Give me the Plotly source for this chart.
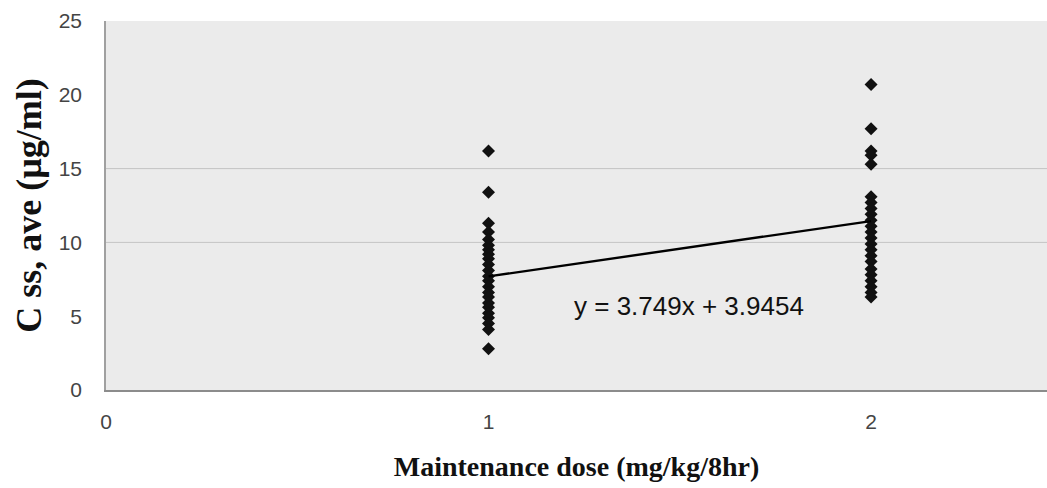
import plotly.graph_objects as go

# Maintenance dose groups and measured average steady-state concentrations
dose_1 = [16.2, 13.4, 11.3, 10.7, 10.2, 9.8, 9.5, 9.2, 8.9, 8.5, 8.1, 7.7,
          7.4, 7.0, 6.6, 6.3, 5.9, 5.6, 5.2, 4.9, 4.5, 4.1, 2.8]
dose_2 = [20.7, 17.7, 16.2, 15.9, 15.3, 13.1, 12.7, 12.3, 11.9, 11.5, 11.1,
          10.7, 10.3, 9.9, 9.5, 9.1, 8.7, 8.2, 7.8, 7.4, 7.0, 6.6, 6.3]

slope = 3.749
intercept = 3.9454
fit_x = [1, 2]

y_ticks = [0, 5, 10, 15, 20, 25]
x_ticks = [0, 1, 2]

xs = [1] * len(dose_1) + [2] * len(dose_2)
ys = dose_1 + dose_2

fig = go.Figure()

fig.add_trace(go.Scatter(
    x=xs, y=ys, mode="markers",
    marker=dict(symbol="diamond", size=10, color="#111111"),
    showlegend=False, hoverinfo="skip",
))

fig.add_trace(go.Scatter(
    x=fit_x, y=[slope * v + intercept for v in fit_x], mode="lines",
    line=dict(color="#000000", width=2.4),
    showlegend=False, hoverinfo="skip",
))

# horizontal guide lines
for gy in [10, 15]:
    fig.add_shape(type="line", xref="paper", yref="y", x0=0, x1=1, y0=gy, y1=gy,
                  line=dict(color="#c4c4c4", width=1), layer="below")

fig.add_annotation(
    x=1.525, y=5.7, xref="x", yref="y",
    text=f"y = {slope}x + {intercept}", showarrow=False,
    font=dict(family="Liberation Sans, Arial", size=26, color="#111111"),
)

fig.update_layout(
    width=1047, height=488,
    margin=dict(l=106, r=0, t=21, b=98),
    paper_bgcolor="white",
    plot_bgcolor="#ebebeb",
    font=dict(family="Liberation Sans, Arial", color="#444444"),
)

fig.update_xaxes(
    range=[0, 2.46], tickvals=x_ticks, ticktext=[str(v) for v in x_ticks],
    showgrid=False, zeroline=False, ticks="",
    showline=True, linecolor="#8c8c8c", linewidth=1.5,
    tickfont=dict(size=21, color="#444444"),
    ticklabelstandoff=12,
    title=dict(text="<b>Maintenance dose (mg/kg/8hr)</b>",
               font=dict(family="Liberation Serif, Times New Roman", size=28, color="#111111"),
               standoff=24),
)

fig.update_yaxes(
    range=[0, 25], tickvals=y_ticks, ticktext=[str(v) for v in y_ticks],
    showgrid=False, zeroline=False, ticks="",
    showline=True, linecolor="#a0a0a0", linewidth=1.5,
    tickfont=dict(size=21, color="#444444"),
    ticklabelstandoff=18,
    title=dict(text="<b>C ss, ave (µg/ml)</b>",
               font=dict(family="Liberation Serif, Times New Roman", size=36, color="#111111"),
               standoff=6),
)

fig.write_html("out.html")
